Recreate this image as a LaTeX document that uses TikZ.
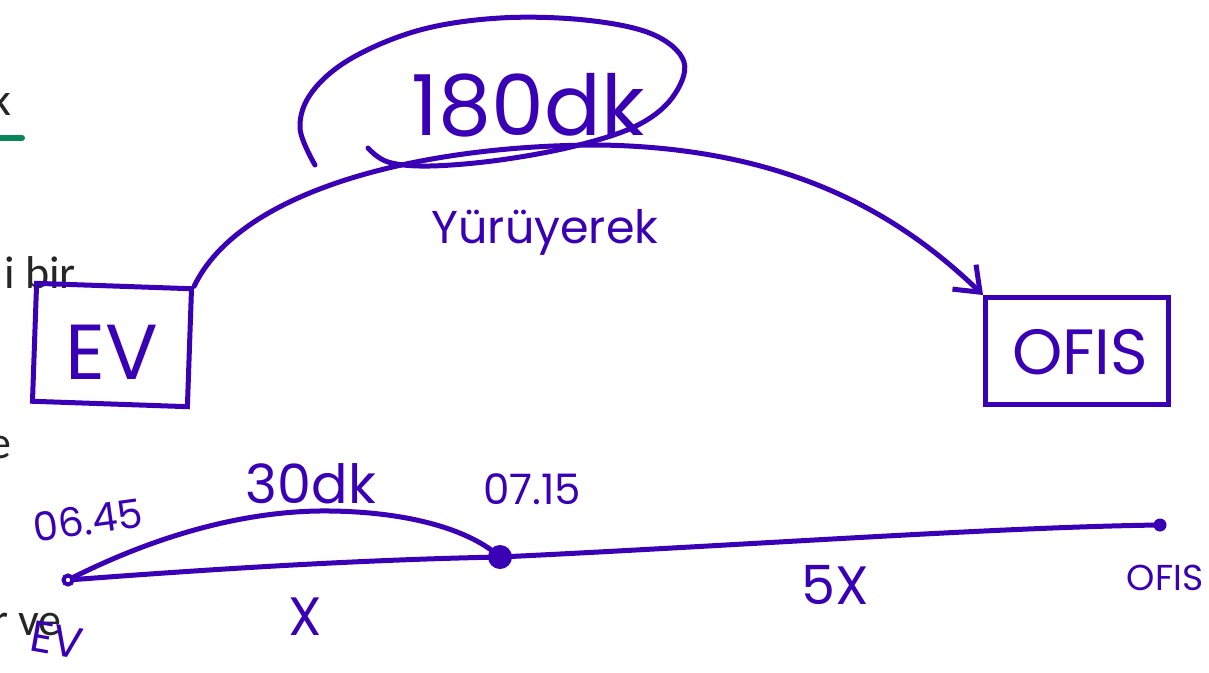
\documentclass[tikz,border=0pt]{standalone}
\usepackage{fontspec}
\setmainfont{Poppins}
\newfontfamily\bgfont{Carlito}
\usetikzlibrary{arrows.meta}
\definecolor{ink}{RGB}{58,0,182}
\definecolor{greenline}{RGB}{10,135,90}
\tikzset{
  pen/.style={draw=ink, line width=5pt, line cap=round, line join=round},
  hw/.style={text=ink, inner sep=0pt},
  bgtext/.style={text=black!85, inner sep=0pt, font=\bgfont\fontsize{46}{46}\selectfont},
  boxnode/.style={draw=ink, line width=5pt, inner sep=0pt}
}
\begin{document}
\begin{tikzpicture}[x=1pt,y=-1pt]
\useasboundingbox (0,0) rectangle (1209,672);
\clip (0,0) rectangle (1209,672);
\fill[white] (0,0) rectangle (1209,672);
% background document text
\node[bgtext, anchor=base east] (bgk) at (12,115) {k};
\draw[greenline, line width=6pt, line cap=round] (-10,138) -- (22,138);
\node[bgtext, anchor=base east] (bgbir) at (76,288) {i bir};
\node[bgtext, anchor=base east] (bge) at (12,458) {e};
\node[bgtext, anchor=base east] (bgve) at (62,635) {r ve};
% boxes
\node[boxnode, minimum width=155pt, minimum height=118pt, rotate=-2] (ev) at (112,345) {};
\node[hw, font=\fontsize{78}{78}\selectfont] (evt) at (112,352) {EV};
\node[boxnode, minimum width=183pt, minimum height=107pt] (ofis) at (1077,351) {};
\node[hw, font=\fontsize{64}{64}\selectfont] (ofist) at (1080,352) {OFIS};
% top arc
\draw[pen, -{Straight Barb[length=22pt,width=34pt,line width=5pt]}] (ev.north east) .. controls (240,190) and (420,145) .. (600,145)
  .. controls (790,148) and (900,215) .. (ofis.north west);
% 180dk and ellipse
\node[hw, font=\fontsize{84}{84}\selectfont] (t180) at (528,105) {180dk};
\draw[pen] plot[smooth, tension=0.6] coordinates {(315,165) (300,128) (312,92) (352,58) (420,30) (500,18) (585,20) (652,34) (684,62) (672,98) (636,126) (575,146) (500,160) (430,166) (388,162) (368,148)};
\node[hw, font=\fontsize{46}{46}\selectfont] (yur) at (545,232) {Yürüyerek};
% timeline
\coordinate (tev) at (68,580);
\coordinate (tmid) at (500,557);
\coordinate (tof) at (1160,525);
\draw[pen] (tev) .. controls (200,570) and (350,560) .. (tmid) .. controls (750,545) and (1000,527) .. (tof);
\draw[pen] (tev) .. controls (170,528) and (260,510) .. (330,511) .. controls (410,512) and (470,530) .. (tmid);
\fill[white] (tev) circle (4pt);
\draw[ink, line width=4pt] (tev) circle (4.5pt);
\fill[ink] (tmid) circle (12pt);
\fill[ink] (tof) circle (6.5pt);
% timeline labels
\node[hw, font=\fontsize{40}{40}\selectfont, rotate=8] (t645) at (88,520) {06.45};
\node[hw, font=\fontsize{54}{54}\selectfont] (t30) at (311,484) {30dk};
\node[hw, font=\fontsize{42}{42}\selectfont] (t715) at (532,489) {07.15};
\node[hw, font=\fontsize{54}{54}\selectfont] (tx) at (305,617) {X};
\node[hw, font=\fontsize{54}{54}\selectfont] (t5x) at (835,585) {5X};
\node[hw, font=\fontsize{36}{36}\selectfont] (tofis) at (1165,578) {OFIS};
\node[hw, font=\fontsize{44}{44}\selectfont, rotate=-10] (tevl) at (57,640) {EV};
\end{tikzpicture}
\end{document}
